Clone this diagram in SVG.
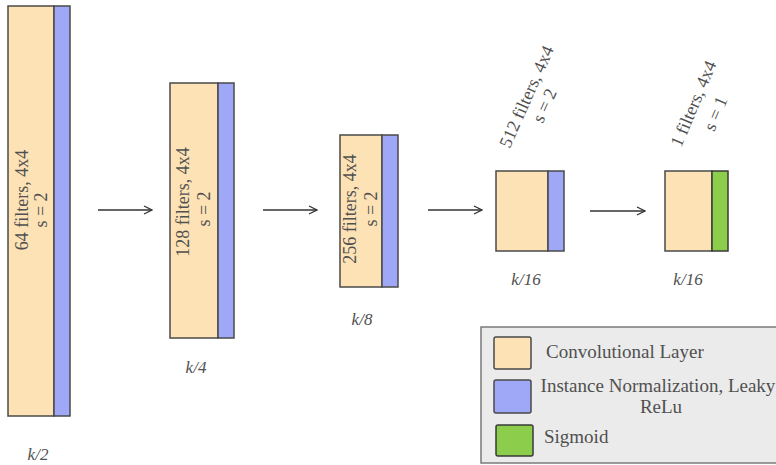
<svg xmlns="http://www.w3.org/2000/svg" width="776" height="465" viewBox="0 0 776 465">
<style>
  .conv { fill: #fde2b6; stroke: #4a4a4a; stroke-width: 1.5; }
  .norm { fill: #9fa8f6; stroke: #4a4a4a; stroke-width: 1.5; }
  .sig { fill: #8ccd4b; stroke: #3a3a3a; stroke-width: 1.5; }
  .lbl { font-family: "Liberation Serif", "Times New Roman", serif; font-size: 18px; fill: #505050; text-anchor: middle; }
  .k { font-family: "Liberation Serif", "Times New Roman", serif; font-size: 17px; font-style: italic; fill: #505050; text-anchor: middle; }
  .leg { font-family: "Liberation Serif", "Times New Roman", serif; font-size: 19px; fill: #505050; }
  .arrow { stroke: #333; stroke-width: 1.5; fill: none; marker-end: url(#ah); }
</style>
<defs>
  <marker id="ah" viewBox="0 0 10 10" refX="9" refY="5" markerWidth="10" markerHeight="10" markerUnits="userSpaceOnUse" orient="auto">
    <path d="M1,1 L9,5 L1,9" fill="none" stroke="#333" stroke-width="1.3"/>
  </marker>
</defs>
<rect width="776" height="465" fill="#ffffff"/>

<g id="layer1">
  <rect class="conv" x="8" y="6" width="46" height="410"/>
  <rect class="norm" x="54" y="6" width="16" height="410"/>
  <text class="lbl" transform="translate(28,200) rotate(-90)">64 filters, 4x4</text>
  <text class="lbl" transform="translate(47,210) rotate(-90)">s = 2</text>
  <text class="k" x="38" y="460">k/2</text>
</g>

<g id="layer2">
  <rect class="conv" x="170" y="83" width="48" height="255"/>
  <rect class="norm" x="218" y="83" width="16" height="255"/>
  <text class="lbl" transform="translate(189,202) rotate(-90)">128 filters, 4x4</text>
  <text class="lbl" transform="translate(210,209) rotate(-90)">s = 2</text>
  <text class="k" x="196" y="373">k/4</text>
</g>

<g id="layer3">
  <rect class="conv" x="340" y="135" width="42" height="152"/>
  <rect class="norm" x="382" y="135" width="16" height="152"/>
  <text class="lbl" transform="translate(356,209) rotate(-90)">256 filters, 4x4</text>
  <text class="lbl" transform="translate(377,209) rotate(-90)">s = 2</text>
  <text class="k" x="362" y="325">k/8</text>
</g>

<g id="layer4">
  <rect class="conv" x="496" y="171" width="52" height="80"/>
  <rect class="norm" x="548" y="171" width="16" height="80"/>
  <text class="lbl" transform="translate(532,99) rotate(-66)">512 filters, 4x4</text>
  <text class="lbl" transform="translate(550,108) rotate(-66)">s = 2</text>
  <text class="k" x="526" y="285">k/16</text>
</g>

<g id="layer5">
  <rect class="conv" x="665" y="171" width="47" height="80"/>
  <rect class="sig" x="712" y="171" width="16" height="80"/>
  <text class="lbl" transform="translate(699,106) rotate(-67)">1 filters, 4x4</text>
  <text class="lbl" transform="translate(721,116) rotate(-67)">s = 1</text>
  <text class="k" x="688" y="285">k/16</text>
</g>

<g id="connectors">
  <line class="arrow" x1="98" y1="210" x2="152" y2="210"/>
  <line class="arrow" x1="263" y1="210" x2="317" y2="210"/>
  <line class="arrow" x1="428" y1="210" x2="482" y2="210"/>
  <line class="arrow" x1="590" y1="211" x2="645" y2="211"/>
</g>

<g id="legend">
  <rect x="481" y="327" width="320" height="136" fill="#ebebeb" stroke="#7a7a7a" stroke-width="1.5"/>
  <rect class="conv" x="494" y="337" width="37" height="32" rx="2" stroke="#555"/>
  <rect class="norm" x="494" y="380" width="37" height="33" rx="2" stroke="#555"/>
  <rect class="sig" x="496" y="425" width="37" height="31" rx="2" stroke="#444"/>
  <text class="leg" x="546" y="358">Convolutional Layer</text>
  <text class="leg" x="658" y="392" text-anchor="middle">Instance Normalization, Leaky</text>
  <text class="leg" x="661" y="413" text-anchor="middle">ReLu</text>
  <text class="leg" x="544" y="443">Sigmoid</text>
</g>
</svg>
